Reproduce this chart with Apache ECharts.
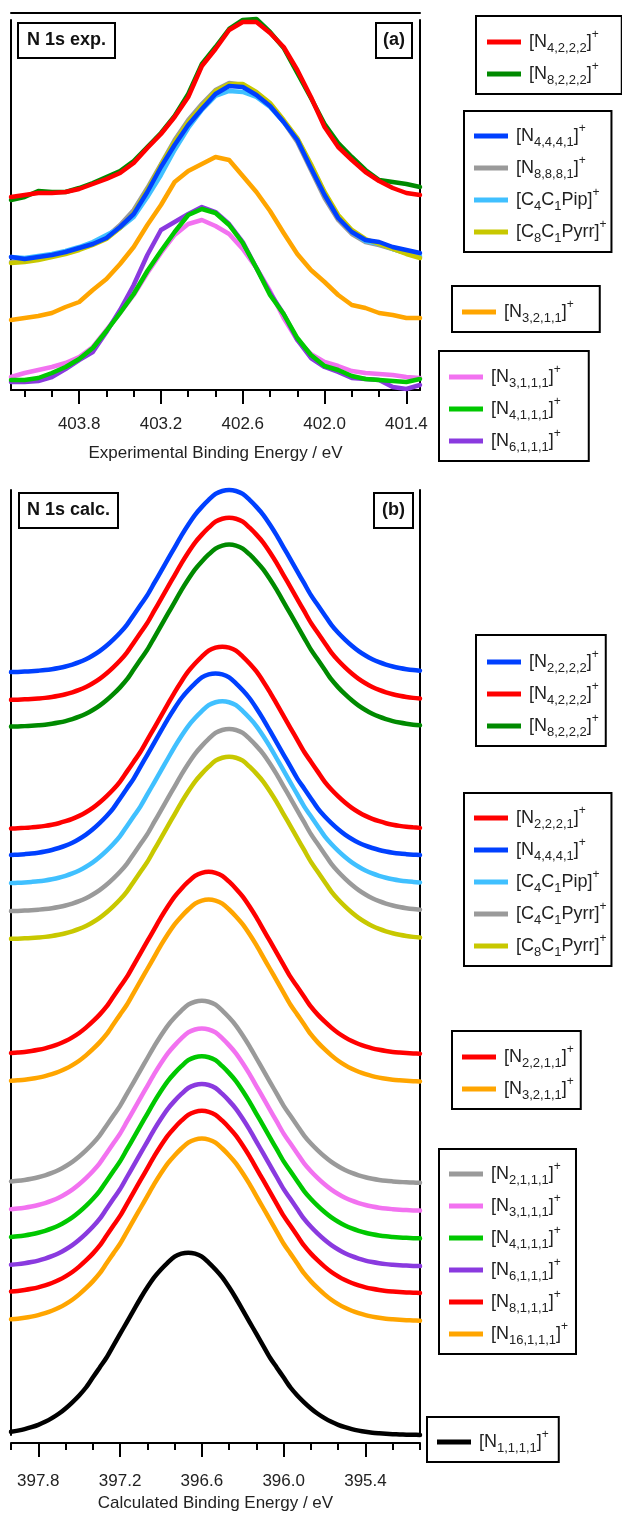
<!DOCTYPE html>
<html>
<head>
<meta charset="utf-8">
<script src="https://cdn.jsdelivr.net/npm/echarts@6/dist/echarts.min.js"></script>
<style>
html,body{margin:0;padding:0;background:#fff;}
#chart{width:622px;height:1517px;}
</style>
</head>
<body>
<div id="chart"></div>
<script>
// ---------- Panel (a): experimental energies (eV) ----------
const expEnergy = [404.3,404.2,404.1,404.0,403.9,403.8,403.7,403.6,403.5,403.4,403.3,403.2,403.1,403.0,402.9,402.8,402.7,402.6,402.5,402.4,402.3,402.2,402.1,402.0,401.9,401.8,401.7,401.6,401.5,401.4,401.3];
const expMajorTicks = [403.8,403.2,402.6,402.0,401.4];
const expMinorTicks = [404.2,404.0,403.8,403.6,403.4,403.2,403.0,402.8,402.6,402.4,402.2,402.0,401.8,401.6,401.4];

const expN4222 = [193,195,197,197,198,201,206,211,217,227,242,256,273,293,324,341,360,368,368,357,343,320,293,263,243,230,218,209,202,197,195];
const expN8222 = [190,193,199,198,198,202,207,213,219,229,243,257,274,296,326,343,361,370,371,358,342,317,292,266,247,233,220,210,208,206,203];
const expN4441 = [133,131,133,135,138,142,146,152,163,176,198,223,245,265,281,296,304,303,295,284,268,250,222,195,172,158,150,148,143,140,137];
const expN8881 = [128,129,131,134,137,141,146,153,165,180,202,226,250,270,286,300,307,305,297,285,268,248,220,192,170,156,148,145,141,137,133];
const expC4C1Pip = [133,132,134,136,139,143,148,155,162,173,193,215,240,262,280,294,299,298,293,283,268,251,225,197,173,158,149,146,141,137,134];
const expC8C1Pyrr = [127,128,130,133,136,140,145,151,162,177,200,225,248,268,284,299,306,306,298,287,270,252,226,198,175,160,151,146,141,136,132];
const expN3211 = [70,72,74,77,83,88,100,111,126,143,165,185,208,219,226,233,230,214,198,179,157,136,120,108,95,85,82,77,75,72,72];
const expN3111 = [13,17,20,23,27,33,43,60,77,95,117,137,155,166,170,164,156,141,122,99,72,50,36,28,24,19,17,16,15,13,12];
const expN4111 = [10,10,12,17,23,31,42,59,77,96,119,139,158,175,181,177,165,147,122,95,76,52,35,24,20,14,11,10,9,8,11];
const expN6111 = [8,8,9,13,21,30,38,58,80,105,135,160,168,176,183,178,166,148,122,97,76,50,32,23,18,12,11,10,3,1,5];

// ---------- Panel (b): calculated energies (eV) ----------
const calcEnergy = [398.00,397.95,397.90,397.85,397.80,397.75,397.70,397.65,397.60,397.55,397.50,397.45,397.40,397.35,397.30,397.25,397.20,397.15,397.10,397.05,397.00,396.95,396.90,396.85,396.80,396.75,396.70,396.65,396.60,396.55,396.50,396.45,396.40,396.35,396.30,396.25,396.20,396.15,396.10,396.05,396.00,395.95,395.90,395.85,395.80,395.75,395.70,395.65,395.60,395.55,395.50,395.45,395.40,395.35,395.30,395.25,395.20,395.15,395.10,395.05,395.00];
const calcMajorTicks = [397.8,397.2,396.6,396.0,395.4];
const calcMinorTicks = [398.0,397.8,397.6,397.4,397.2,397.0,396.8,396.6,396.4,396.2,396.0,395.8,395.6,395.4,395.2,395.0];

const calcN2222 = [777.4,777.6,777.9,778.3,778.8,779.4,780.3,781.5,783,785,787.4,790.4,794.1,798.5,803.9,810.1,817,825,835,845,855,867,879,891,903,915,926,936,944,951,957,960,961,960,957,951,944,936,926,915,903,891,879,867,855,845,835,825,817,810.1,803.9,798.5,794.1,790.4,787.4,785,783,781.5,780.3,779.4,778.8];
const calcN4222 = [749.4,749.6,749.9,750.3,750.8,751.4,752.3,753.5,755,757,759.4,762.4,766.1,770.5,775.9,782.1,789,797,807,817,827,839,851,863,875,887,898,908,916,923,929,932,933,932,929,923,916,908,898,887,875,863,851,839,827,817,807,797,789,782.1,775.9,770.5,766.1,762.4,759.4,757,755,753.5,752.3,751.4,750.8];
const calcN8222 = [722.4,722.6,722.9,723.3,723.8,724.4,725.3,726.5,728,730,732.4,735.4,739.1,743.5,748.9,755.1,762,770,780,790,800,812,824,836,848,860,871,881,889,896,902,905,906,905,902,896,889,881,871,860,848,836,824,812,800,790,780,770,762,755.1,748.9,743.5,739.1,735.4,732.4,730,728,726.5,725.3,724.4,723.8];
const calcN2221 = [619.6,619.9,620.3,620.8,621.4,622.3,623.5,625,627,629.4,632.4,636.1,640.5,645.9,652.1,659,667,677,687,697,709,721,733,745,757,768,778,786,793,799,802,803,802,799,793,786,778,768,757,745,733,721,709,697,687,677,667,659,652.1,645.9,640.5,636.1,632.4,629.4,627,625,623.5,622.3,621.4,620.8,620.3];
const calcN4441 = [592.9,593.3,593.8,594.4,595.3,596.5,598,600,602.4,605.4,609.1,613.5,618.9,625.1,632,640,650,660,670,682,694,706,718,730,741,751,759,766,772,775,776,775,772,766,759,751,741,730,718,706,694,682,670,660,650,640,632,625.1,618.9,613.5,609.1,605.4,602.4,600,598,596.5,595.3,594.4,593.8,593.3,592.9];
const calcC4C1Pip = [564.6,564.9,565.3,565.8,566.4,567.3,568.5,570,572,574.4,577.4,581.1,585.5,590.9,597.1,604,612,622,632,642,654,666,678,690,702,713,723,731,738,744,747,748,747,744,738,731,723,713,702,690,678,666,654,642,632,622,612,604,597.1,590.9,585.5,581.1,577.4,574.4,572,570,568.5,567.3,566.4,565.8,565.3];
const calcC4C1Pyrr = [536.4,536.6,536.9,537.3,537.8,538.4,539.3,540.5,542,544,546.4,549.4,553.1,557.5,562.9,569.1,576,584,594,604,614,626,638,650,662,674,685,695,703,710,716,719,720,719,716,710,703,695,685,674,662,650,638,626,614,604,594,584,576,569.1,562.9,557.5,553.1,549.4,546.4,544,542,540.5,539.3,538.4,537.8];
const calcC8C1Pyrr = [508.4,508.6,508.9,509.3,509.8,510.4,511.3,512.5,514,516,518.4,521.4,525.1,529.5,534.9,541.1,548,556,566,576,586,598,610,622,634,646,657,667,675,682,688,691,692,691,688,682,675,667,657,646,634,622,610,598,586,576,566,556,548,541.1,534.9,529.5,525.1,521.4,518.4,516,514,512.5,511.3,510.4,509.8];
const calcN2211 = [393.3,393.8,394.4,395.3,396.5,398,400,402.4,405.4,409.1,413.5,418.9,425.1,432,440,450,460,470,482,494,506,518,530,541,551,559,566,572,575,576,575,572,566,559,551,541,530,518,506,494,482,470,460,450,440,432,425.1,418.9,413.5,409.1,405.4,402.4,400,398,396.5,395.3,394.4,393.8,393.3,392.9,392.6];
const calcN3211 = [365.3,365.8,366.4,367.3,368.5,370,372,374.4,377.4,381.1,385.5,390.9,397.1,404,412,422,432,442,454,466,478,490,502,513,523,531,538,544,547,548,547,544,538,531,523,513,502,490,478,466,454,442,432,422,412,404,397.1,390.9,385.5,381.1,377.4,374.4,372,370,368.5,367.3,366.4,365.8,365.3,364.9,364.6];
const calcN2111 = [263.8,264.4,265.3,266.5,268,270,272.4,275.4,279.1,283.5,288.9,295.1,302,310,320,330,340,352,364,376,388,400,411,421,429,436,442,445,446,445,442,436,429,421,411,400,388,376,364,352,340,330,320,310,302,295.1,288.9,283.5,279.1,275.4,272.4,270,268,266.5,265.3,264.4,263.8,263.3,262.9,262.6,262.4];
const calcN3111 = [235.8,236.4,237.3,238.5,240,242,244.4,247.4,251.1,255.5,260.9,267.1,274,282,292,302,312,324,336,348,360,372,383,393,401,408,414,417,418,417,414,408,401,393,383,372,360,348,336,324,312,302,292,282,274,267.1,260.9,255.5,251.1,247.4,244.4,242,240,238.5,237.3,236.4,235.8,235.3,234.9,234.6,234.4];
const calcN4111 = [207.8,208.4,209.3,210.5,212,214,216.4,219.4,223.1,227.5,232.9,239.1,246,254,264,274,284,296,308,320,332,344,355,365,373,380,386,389,390,389,386,380,373,365,355,344,332,320,308,296,284,274,264,254,246,239.1,232.9,227.5,223.1,219.4,216.4,214,212,210.5,209.3,208.4,207.8,207.3,206.9,206.6,206.4];
const calcN6111 = [179.8,180.4,181.3,182.5,184,186,188.4,191.4,195.1,199.5,204.9,211.1,218,226,236,246,256,268,280,292,304,316,327,337,345,352,358,361,362,361,358,352,345,337,327,316,304,292,280,268,256,246,236,226,218,211.1,204.9,199.5,195.1,191.4,188.4,186,184,182.5,181.3,180.4,179.8,179.3,178.9,178.6,178.4];
const calcN8111 = [152.8,153.4,154.3,155.5,157,159,161.4,164.4,168.1,172.5,177.9,184.1,191,199,209,219,229,241,253,265,277,289,300,310,318,325,331,334,335,334,331,325,318,310,300,289,277,265,253,241,229,219,209,199,191,184.1,177.9,172.5,168.1,164.4,161.4,159,157,155.5,154.3,153.4,152.8,152.3,151.9,151.6,151.4];
const calcN16111 = [124.8,125.4,126.3,127.5,129,131,133.4,136.4,140.1,144.5,149.9,156.1,163,171,181,191,201,213,225,237,249,261,272,282,290,297,303,306,307,306,303,297,290,282,272,261,249,237,225,213,201,191,181,171,163,156.1,149.9,144.5,140.1,136.4,133.4,131,129,127.5,126.3,125.4,124.8,124.3,123.9,123.6,123.4];
const calcN1111 = [11.3,12.5,14,16,18.4,21.4,25.1,29.5,34.9,41.1,48,56,66,76,86,98,110,122,134,146,157,167,175,182,188,191,192,191,188,182,175,167,157,146,134,122,110,98,86,76,66,56,48,41.1,34.9,29.5,25.1,21.4,18.4,16,14,12.5,11.3,10.4,9.8,9.3,8.9,8.6,8.4,8.3,8.2];

// ---------- colours ----------
const C = {
  red:'#ff0000', dgreen:'#008a00', blue:'#0040ff', grey:'#9a9a9a', lblue:'#40c0ff',
  olive:'#c8c800', orange:'#ffa500', pink:'#f272f0', green:'#00c800', purple:'#8a3adf', black:'#000000'
};

function pairs(xs, ys){ return xs.map((x,i)=>[x, ys[i]]); }

function mkSeries(name, xs, ys, color, xi, yi, smooth){
  return {
    type:'line', name:name, data:pairs(xs,ys), xAxisIndex:xi, yAxisIndex:yi,
    showSymbol:false, symbol:'none', smooth:smooth, clip:false, animation:false,
    color:color, itemStyle:{color:color},
    lineStyle:{color:color, width:4.5, join:'round', cap:'round'}
  };
}

const series = [
  // panel (a)
  mkSeries('N8,2,2,2', expEnergy, expN8222, C.dgreen, 0, 0, false),
  mkSeries('N4,2,2,2', expEnergy, expN4222, C.red, 0, 0, false),
  mkSeries('N8,8,8,1', expEnergy, expN8881, C.grey, 0, 0, false),
  mkSeries('C4C1Pip', expEnergy, expC4C1Pip, C.lblue, 0, 0, false),
  mkSeries('C8C1Pyrr', expEnergy, expC8C1Pyrr, C.olive, 0, 0, false),
  mkSeries('N4,4,4,1', expEnergy, expN4441, C.blue, 0, 0, false),
  mkSeries('N3,2,1,1', expEnergy, expN3211, C.orange, 0, 0, false),
  mkSeries('N3,1,1,1', expEnergy, expN3111, C.pink, 0, 0, false),
  mkSeries('N6,1,1,1', expEnergy, expN6111, C.purple, 0, 0, false),
  mkSeries('N4,1,1,1', expEnergy, expN4111, C.green, 0, 0, false),
  // panel (b)
  mkSeries('N2,2,2,2', calcEnergy, calcN2222, C.blue, 3, 2, 0.3),
  mkSeries('N4,2,2,2', calcEnergy, calcN4222, C.red, 3, 2, 0.3),
  mkSeries('N8,2,2,2', calcEnergy, calcN8222, C.dgreen, 3, 2, 0.3),
  mkSeries('N2,2,2,1', calcEnergy, calcN2221, C.red, 3, 2, 0.3),
  mkSeries('N4,4,4,1', calcEnergy, calcN4441, C.blue, 3, 2, 0.3),
  mkSeries('C4C1Pip', calcEnergy, calcC4C1Pip, C.lblue, 3, 2, 0.3),
  mkSeries('C4C1Pyrr', calcEnergy, calcC4C1Pyrr, C.grey, 3, 2, 0.3),
  mkSeries('C8C1Pyrr', calcEnergy, calcC8C1Pyrr, C.olive, 3, 2, 0.3),
  mkSeries('N2,2,1,1', calcEnergy, calcN2211, C.red, 3, 2, 0.3),
  mkSeries('N3,2,1,1', calcEnergy, calcN3211, C.orange, 3, 2, 0.3),
  mkSeries('N2,1,1,1', calcEnergy, calcN2111, C.grey, 3, 2, 0.3),
  mkSeries('N3,1,1,1', calcEnergy, calcN3111, C.pink, 3, 2, 0.3),
  mkSeries('N4,1,1,1', calcEnergy, calcN4111, C.green, 3, 2, 0.3),
  mkSeries('N6,1,1,1', calcEnergy, calcN6111, C.purple, 3, 2, 0.3),
  mkSeries('N8,1,1,1', calcEnergy, calcN8111, C.red, 3, 2, 0.3),
  mkSeries('N16,1,1,1', calcEnergy, calcN16111, C.orange, 3, 2, 0.3),
  mkSeries('N1,1,1,1', calcEnergy, calcN1111, C.black, 3, 2, 0.3)
];

const FONT = 'Liberation Sans, Arial, sans-serif';
const rich = {
  b:{fontFamily:FONT, fontSize:18, color:'#222', lineHeight:26, verticalAlign:'middle', padding:[0,0,0,3]},
  m:{fontFamily:FONT, fontSize:18, color:'#222', lineHeight:26, verticalAlign:'middle'},
  s:{fontFamily:FONT, fontSize:13, color:'#222', lineHeight:13, verticalAlign:'bottom'},
  p:{fontFamily:FONT, fontSize:12, color:'#222', lineHeight:12, verticalAlign:'top'}
};
function fmt(name){
  const body = name.replace(/([A-Za-z]+)|([0-9,]+)/g, (m,a,d)=> a ? '{m|'+a+'}' : '{s|'+d+'}');
  return '{b|[}' + body + '{m|]}{p|+}';
}
function legend(names, left, top, pad){
  return {
    data:names, orient:'vertical', left:left, top:top, padding:pad,
    itemWidth:34, itemHeight:5, itemGap:6, icon:'rect', selectedMode:false,
    borderColor:'#000', borderWidth:2, backgroundColor:'#fff',
    formatter:fmt, textStyle:{rich:rich}
  };
}

const legends = [
  legend(['N4,2,2,2','N8,2,2,2'], 476, 16, [13,23,7,11]),
  legend(['N4,4,4,1','N8,8,8,1','C4C1Pip','C8C1Pyrr'], 464, 111, [12,5,7,10]),
  legend(['N3,2,1,1'], 452, 286, [13,26,7,10]),
  legend(['N3,1,1,1','N4,1,1,1','N6,1,1,1'], 439, 351, [13,28,7,10]),
  legend(['N2,2,2,2','N4,2,2,2','N8,2,2,2'], 476, 635, [14,7,7,11]),
  legend(['N2,2,2,1','N4,4,4,1','C4C1Pip','C4C1Pyrr','C8C1Pyrr'], 464, 793, [12,5,7,10]),
  legend(['N2,2,1,1','N3,2,1,1'], 452, 1031, [13,7,7,10]),
  legend(['N2,1,1,1','N3,1,1,1','N4,1,1,1','N6,1,1,1','N8,1,1,1','N16,1,1,1'], 439, 1149, [12,8,7,10]),
  legend(['N1,1,1,1'], 427, 1417, [12,10,7,10])
];

const axisLineStyle = {color:'#000', width:2};
function majorX(grid, min, max, ticks, name, gap, margin, offset){
  return {
    type:'value', gridIndex:grid, min:min, max:max, inverse:true, position:'bottom', offset:offset,
    axisLine:{show:true, onZero:false, lineStyle:axisLineStyle},
    axisTick:{show:true, customValues:ticks, length:14, lineStyle:{color:'#000', width:2}},
    axisLabel:{show:true, customValues:ticks, formatter:v=>v.toFixed(1), margin:margin,
      fontFamily:FONT, fontSize:17, color:'#222'},
    splitLine:{show:false},
    name:name, nameLocation:'middle', nameGap:gap,
    nameTextStyle:{fontFamily:FONT, fontSize:17, color:'#222'}
  };
}
function minorX(grid, min, max, ticks, offset){
  return {
    type:'value', gridIndex:grid, min:min, max:max, inverse:true, position:'bottom', offset:offset,
    axisLine:{show:false, onZero:false},
    axisTick:{show:true, customValues:ticks, length:7, lineStyle:{color:'#000', width:2}},
    axisLabel:{show:false}, splitLine:{show:false}
  };
}
function frameY(grid, min, max, pos){
  return {
    type:'value', gridIndex:grid, min:min, max:max, position:pos,
    axisLine:{show:true, onZero:false, lineStyle:{color:'#000', width:2}},
    axisTick:{show:false}, axisLabel:{show:false}, splitLine:{show:false}
  };
}

const option = {
  backgroundColor:'#fff',
  animation:false,
  grid:[
    {left:11, width:409, top:20, height:370},
    {left:11, width:409, top:490, height:953}
  ],
  xAxis:[
    majorX(0, 401.3, 404.3, expMajorTicks, 'Experimental Binding Energy / eV', 55, 26, 0),
    minorX(0, 401.3, 404.3, expMinorTicks, 0),
    {type:'value', gridIndex:0, min:401.3, max:404.3, inverse:true, position:'top', offset:7,
     axisLine:{show:true, onZero:false, lineStyle:axisLineStyle}, axisTick:{show:false},
     axisLabel:{show:false}, splitLine:{show:false}},
    majorX(1, 395.0, 398.0, calcMajorTicks, 'Calculated Binding Energy / eV', 51, 30, 8),
    minorX(1, 395.0, 398.0, calcMinorTicks, 8)
  ],
  yAxis:[
    frameY(0, 0, 370, 'left'),
    frameY(0, 0, 370, 'right'),
    frameY(1, 8, 961, 'left'),
    frameY(1, 8, 961, 'right')
  ],
  title:[
    {text:'N 1s exp.', left:18, top:23, padding:[7,9,7,9], borderWidth:2, borderColor:'#000',
     textStyle:{fontFamily:FONT, fontSize:18, fontWeight:'bold', color:'#111', lineHeight:21}},
    {text:'(a)', left:376, top:23, padding:[7,7,7,7], borderWidth:2, borderColor:'#000',
     textStyle:{fontFamily:FONT, fontSize:18, fontWeight:'bold', color:'#111', lineHeight:21}},
    {text:'N 1s calc.', left:19, top:493, padding:[7,8,7,8], borderWidth:2, borderColor:'#000',
     textStyle:{fontFamily:FONT, fontSize:18, fontWeight:'bold', color:'#111', lineHeight:21}},
    {text:'(b)', left:374, top:493, padding:[7,8,7,8], borderWidth:2, borderColor:'#000',
     textStyle:{fontFamily:FONT, fontSize:18, fontWeight:'bold', color:'#111', lineHeight:21}}
  ],
  legend:legends,
  series:series
};

const chart = echarts.init(document.getElementById('chart'), null, {renderer:'canvas', width:622, height:1517});
chart.setOption(option);
</script>
</body>
</html>
